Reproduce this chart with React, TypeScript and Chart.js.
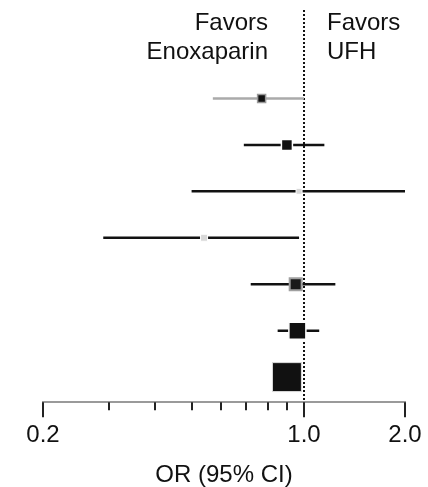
import React, { useEffect, useRef } from 'react';
import { Chart, registerables, LogarithmicScale } from 'chart.js';

// ---- data ----
const rows = [1, 2, 3, 4, 5, 6, 7];
const oddsRatio = [0.77, 0.9, 0.97, 0.54, 0.95, 0.96, 0.9];
const ciLow = [0.57, 0.69, 0.5, 0.29, 0.72, 0.85, 0.86];
const ciHigh = [1.0, 1.15, 2.0, 0.97, 1.24, 1.11, 0.95];
const tickValues = [0.2, 0.3, 0.4, 0.5, 0.6, 0.7, 0.8, 0.9, 1.0, 2.0];
const majorTicks = [0.2, 1.0, 2.0];
const tickLabels = ['0.2', '1.0', '2.0'];
const axisTitle = 'OR (95% CI)';
const leftNote = ['Favors', 'Enoxaparin'];
const rightNote = ['Favors', 'UFH'];

// ---- styles ----
const FONT = '"Liberation Sans", Arial, Helvetica, sans-serif';
const lineColors = ['#aaaaaa', '#111111', '#111111', '#111111', '#111111', '#111111', '#111111'];
const markerSide = [8, 11, 6, 7, 12, 17, 29];
const markerFill = ['#111111', '#111111', '#d8d8d8', '#d8d8d8', '#1a1a1a', '#111111', '#111111'];
const markerStroke = ['#999999', '#ffffff', '#ffffff', '#ffffff', '#a0a0a0', '#ffffff', '#e0e0e0'];
const markerStrokeW = [1.5, 1.5, 1, 1, 2, 1.5, 1];

// log axis whose 0.2–1.0 and 1.0–2.0 segments have their own widths (as in the source figure)
const PIVOT = 1.0;
const SPLIT = 0.721;

class ForestLogScale extends (LogarithmicScale as any) {
  static id = 'forestLog';
  static defaults = (LogarithmicScale as any).defaults;
  getPixelForValue(value: any) {
    if (value === undefined || value === null || isNaN(value)) return NaN;
    const v = Number(value);
    const lo = this.min as number;
    const hi = this.max as number;
    const d =
      v <= PIVOT
        ? (SPLIT * Math.log(v / lo)) / Math.log(PIVOT / lo)
        : SPLIT + ((1 - SPLIT) * Math.log(v / PIVOT)) / Math.log(hi / PIVOT);
    return this.getPixelForDecimal(d);
  }
  getValueForPixel(pixel: number) {
    const d = this.getDecimalForPixel(pixel);
    const lo = this.min as number;
    const hi = this.max as number;
    return d <= SPLIT
      ? lo * Math.pow(PIVOT / lo, d / SPLIT)
      : PIVOT * Math.pow(hi / PIVOT, (d - SPLIT) / (1 - SPLIT));
  }
}

Chart.register(...registerables, ForestLogScale as any);

const forestPlugin = {
  id: 'forestExtras',
  beforeDatasetsDraw(chart: any) {
    const { ctx, chartArea, scales } = chart;
    const x1 = scales.x.getPixelForValue(1);
    ctx.save();
    ctx.strokeStyle = '#111';
    ctx.lineWidth = 2;
    ctx.setLineDash([2, 2]);
    ctx.beginPath();
    ctx.moveTo(x1, chartArea.top + 4);
    ctx.lineTo(x1, chartArea.bottom);
    ctx.stroke();
    ctx.restore();
  },
  afterDraw(chart: any) {
    const { ctx, chartArea, scales } = chart;
    const xs = scales.x;
    const x1 = xs.getPixelForValue(1);
    ctx.save();
    // tick marks: long at labelled values, short elsewhere
    ctx.strokeStyle = '#222';
    ctx.lineWidth = 2;
    tickValues.forEach((v) => {
      const major = majorTicks.some((m) => Math.abs(m - v) < 1e-9);
      const px = Math.round(xs.getPixelForValue(v));
      ctx.beginPath();
      ctx.moveTo(px, chartArea.bottom);
      ctx.lineTo(px, chartArea.bottom + (major ? 15 : 8));
      ctx.stroke();
    });
    ctx.fillStyle = '#111';
    ctx.font = `24px ${FONT}`;
    ctx.textBaseline = 'alphabetic';
    ctx.textAlign = 'right';
    leftNote.forEach((t, i) => ctx.fillText(t, x1 - 36, 30 + i * 29));
    ctx.textAlign = 'left';
    rightNote.forEach((t, i) => ctx.fillText(t, x1 + 23, 30 + i * 29));
    ctx.restore();
  },
};

export default function App() {
  const canvasRef = useRef<HTMLCanvasElement | null>(null);

  useEffect(() => {
    if (!canvasRef.current) return;
    const ciSets = rows.map((r, i) => ({
      type: 'line' as const,
      data: [
        { x: ciLow[i], y: r },
        { x: ciHigh[i], y: r },
      ],
      borderColor: lineColors[i],
      borderWidth: 2.5,
      pointRadius: 0,
      showLine: true,
      order: 2,
    }));
    const pointSet = {
      type: 'scatter' as const,
      data: rows.map((r, i) => ({ x: oddsRatio[i], y: r })),
      pointStyle: 'rect',
      pointRadius: markerSide.map((s) => s / Math.SQRT2),
      pointBackgroundColor: markerFill,
      pointBorderColor: markerStroke,
      pointBorderWidth: markerStrokeW,
      order: 1,
    };
    const chart = new Chart(canvasRef.current, {
      type: 'scatter',
      data: { datasets: [...ciSets, pointSet] as any },
      options: {
        animation: false,
        responsive: true,
        maintainAspectRatio: false,
        layout: { autoPadding: false, padding: { top: 6, left: 43, right: 23, bottom: 0 } },
        plugins: { legend: { display: false }, tooltip: { enabled: false } },
        scales: {
          x: {
            type: 'forestLog' as any,
            min: 0.2,
            max: 2.0,
            position: 'bottom',
            afterBuildTicks: (s: any) => {
              s.ticks = tickValues.map((v) => ({ value: v }));
            },
            ticks: {
              autoSkip: false,
              maxRotation: 0,
              padding: 0,
              color: '#111',
              font: { size: 24, family: FONT },
              callback: (v: any) => {
                const k = majorTicks.findIndex((m) => Math.abs(m - Number(v)) < 1e-9);
                return k >= 0 ? tickLabels[k] : '';
              },
            },
            grid: {
              drawOnChartArea: false,
              drawTicks: true,
              tickLength: 19,
              tickWidth: 2,
              tickColor: 'rgba(0,0,0,0)',
            },
            border: { display: true, color: '#9a9a9a', width: 2 },
            title: {
              display: true,
              text: axisTitle,
              color: '#111',
              font: { size: 24, family: FONT, lineHeight: 1.0 },
              padding: { top: 13, bottom: 0 },
            },
          } as any,
          y: {
            type: 'linear',
            display: false,
            reverse: true,
            min: -0.99,
            max: 7.54,
          },
        },
      },
      plugins: [forestPlugin],
    });
    return () => chart.destroy();
  }, []);

  return (
    <div style={{ position: 'absolute', left: 0, top: 0, width: 428, height: 487, background: '#fff' }}>
      <canvas ref={canvasRef} />
    </div>
  );
}
